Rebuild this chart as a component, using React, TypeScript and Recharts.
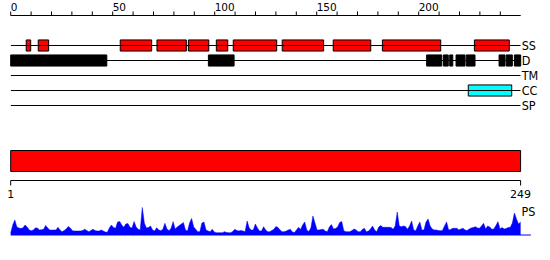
import React from 'react';
import { ComposedChart, AreaChart, Area, Bar, Line, XAxis, YAxis, ReferenceArea, ReferenceLine } from 'recharts';

const trackNames = ['SS', 'D', 'TM', 'CC', 'SP'];
const trackEnd = 250;

// residue ranges [start, end] per track
const ssSegments: [number, number][] = [
  [7.6, 9.8], [13.5, 18.6], [53.7, 69.1], [71.7, 86.1], [87.1, 97.1], [100.8, 106.4],
  [109.1, 130.4], [133.1, 153.4], [158.1, 176.5], [182.2, 210.8], [227.3, 244.4],
];
const dSegments: [number, number][] = [
  [0, 47.1], [96.9, 109.5], [203.9, 211.3], [212.1, 214.5], [215.2, 216.7], [218.3, 222.7],
  [223.3, 227.6], [239.4, 242.3], [242.9, 245.9], [246.9, 250],
];
const tmSegments: [number, number][] = [];
const ccSegments: [number, number][] = [[224.3, 245.6]];
const spSegments: [number, number][] = [];

const topTicks = [0, 10, 20, 30, 40, 50, 60, 70, 80, 90, 100, 110, 120, 130, 140, 150, 160, 170, 180, 190, 200, 210, 220, 230, 240];
const proteinLength = 249;
const lengthTicks = [1, 249];

const psScores = [
  2, 10, 15, 8, 7, 6.5, 7.3, 10, 8, 5,
  4.3, 5, 7, 7, 5, 5.3, 5.7, 9.5, 7, 5,
  5, 5, 5, 7.7, 5, 3.3, 4.5, 6, 8.5, 7,
  4.3, 4, 4, 4, 4, 4.5, 5.7, 4.5, 3.3, 4.5,
  5.7, 4.5, 4, 4, 5, 4, 3, 2.7, 7, 10,
  7.5, 6.7, 13, 13.5, 10, 7.7, 11, 11.5, 7.7, 7,
  13.5, 8, 5.7, 5, 27.5, 12, 7, 7.5, 9, 5,
  4, 7.3, 5, 4.3, 5.7, 11.7, 6, 4.3, 6.7, 13.3,
  6, 8, 9.5, 11, 12.5, 5, 4, 12, 16.5, 8,
  5.7, 3.3, 3.3, 12, 13, 5, 4, 3.3, 5.7, 3,
  2.3, 2.3, 2.3, 2.3, 3.3, 2.5, 2.3, 2.3, 3.5, 5.7,
  4.5, 4, 4.5, 4, 3.3, 14, 7, 5, 5, 11,
  7, 4, 4, 8.3, 5, 3.3, 3.3, 4.5, 5.7, 8.5,
  7.5, 5, 3.3, 3.3, 4, 5, 5.7, 3, 2.5, 5,
  7.7, 5.5, 10, 13, 5, 3.5, 7, 19, 12, 5,
  5, 5.5, 5.7, 4, 3.3, 8, 10.5, 6, 6.5, 8,
  12.5, 13.5, 4.3, 3.3, 3.3, 3.3, 4.5, 6, 5, 3.3,
  3.3, 5.5, 6.7, 3.3, 4, 6, 9, 5, 3.3, 8,
  9.5, 7.7, 7.7, 7.7, 7.7, 7.5, 5.7, 9, 23, 9,
  8.3, 9, 8.5, 5.7, 9, 14, 5, 4.3, 9, 13,
  5, 5, 13, 16, 9, 6, 5, 5, 4.5, 4.3,
  4.5, 9, 13, 5, 5.5, 6.7, 6.7, 6.7, 5, 6,
  6.7, 5, 4.5, 6, 7, 7.5, 8.3, 7, 6.7, 9,
  11.7, 6, 9, 8, 5.7, 6, 9.5, 13.3, 6, 7.5,
  6, 6.5, 7.5, 7.7, 12, 22, 16, 11, 13,
];

const font = "'DejaVu Sans', sans-serif";
const labelFont = "'DejaVu Sans Condensed', 'DejaVu Sans', sans-serif";

const tracks = [
  { segments: ssSegments, fill: '#ff0000' },
  { segments: dSegments, fill: '#000000' },
  { segments: tmSegments, fill: '#ffff00' },
  { segments: ccSegments, fill: '#00ffff' },
  { segments: spSegments, fill: '#00ff00' },
];

const TopTick = (props: any) => {
  const { x, y, payload } = props;
  if (payload.value % 50 !== 0) return <g />;
  return (
    <text x={x} y={y} textAnchor="start" fontSize={10.5} fontFamily={font} fill="#000">
      {payload.value}
    </text>
  );
};

const SideLabel = (props: any) => {
  const { x, y, text } = props;
  return (
    <text x={x} y={y} dy="0.36em" textAnchor="start" fontSize={12.5} fontFamily={labelFont} fill="#000">
      {text}
    </text>
  );
};

export default function App() {
  const lengthData = [{ name: 'protein', span: [1, proteinLength] }];
  const psData = psScores.map((s, i) => ({ pos: i + 1, score: s }));

  return (
    <div style={{ position: 'absolute', left: 0, top: 0, width: 550, height: 260, background: '#fff' }}>
      <div style={{ position: 'absolute', left: 0, top: 0 }}>
        <ComposedChart width={550} height={120.5} margin={{ top: 0.5, right: 0, bottom: 0, left: 10.7 }}>
          <XAxis
            type="number"
            dataKey="pos"
            domain={[0, trackEnd]}
            ticks={topTicks}
            interval={0}
            orientation="top"
            height={15}
            tickSize={4}
            tickMargin={1}
            stroke="#000"
            tick={<TopTick />}
            allowDataOverflow
          />
          <YAxis
            type="number"
            dataKey="track"
            domain={[-2, 5]}
            reversed
            ticks={[0, 1, 2, 3, 4]}
            interval={0}
            orientation="right"
            width={29.3}
            axisLine={false}
            tickLine={false}
            tickSize={0}
            tickMargin={1}
            allowDataOverflow
            tick={(p: any) => <SideLabel x={p.x} y={p.y} text={trackNames[p.payload.value]} />}
          />
          {trackNames.map((n, i) => (
            <Line
              key={n}
              data={[{ pos: 0, track: i }, { pos: trackEnd, track: i }]}
              dataKey="track"
              stroke="#000"
              strokeWidth={1}
              dot={false}
              activeDot={false}
              isAnimationActive={false}
            />
          ))}
          {tracks.map((t, i) =>
            t.segments.map((s, j) => (
              <ReferenceArea
                key={`${i}-${j}`}
                x1={s[0]}
                x2={s[1]}
                y1={i - 0.37}
                y2={i + 0.37}
                fill={t.fill}
                fillOpacity={1}
                stroke="#000"
                strokeWidth={1}
              />
            ))
          )}
        </ComposedChart>
      </div>

      <div style={{ position: 'absolute', left: 0, top: 140 }}>
        <ComposedChart
          layout="vertical"
          width={550}
          height={70}
          data={lengthData}
          margin={{ top: 0.5, right: 29.4, bottom: 0, left: 10.7 }}
        >
          <XAxis
            type="number"
            domain={[1, proteinLength]}
            ticks={lengthTicks}
            interval={0}
            height={29.5}
            tickSize={5}
            tickMargin={5}
            stroke="#000"
            tick={{ fill: '#000', fontSize: 11, fontFamily: font }}
          />
          <YAxis type="category" dataKey="name" hide />
          <Bar dataKey="span" fill="#ff0000" stroke="#000" strokeWidth={1} barSize={21} isAnimationActive={false} />
        </ComposedChart>
      </div>

      <div style={{ position: 'absolute', left: 0, top: 200 }}>
        <AreaChart width={550} height={40} data={psData} margin={{ top: 5, right: 0, bottom: 5, left: 10.7 }}>
          <XAxis type="number" dataKey="pos" domain={[1, proteinLength]} hide />
          <YAxis
            domain={[0, 30]}
            orientation="right"
            width={29.4}
            ticks={[24]}
            interval={0}
            axisLine={false}
            tickLine={false}
            tickSize={0}
            tickMargin={1}
            tick={(p: any) => <SideLabel x={p.x} y={p.y} text="PS" />}
          />
          <ReferenceLine
            segment={[{ x: 1, y: 0 }, { x: 254, y: 0 }]}
            stroke="#0000ff"
            strokeWidth={1}
            ifOverflow="visible"
          />
          <Area
            dataKey="score"
            type="linear"
            stroke="#0000ff"
            strokeWidth={0.5}
            fill="#0000ff"
            fillOpacity={1}
            isAnimationActive={false}
          />
        </AreaChart>
      </div>
    </div>
  );
}
